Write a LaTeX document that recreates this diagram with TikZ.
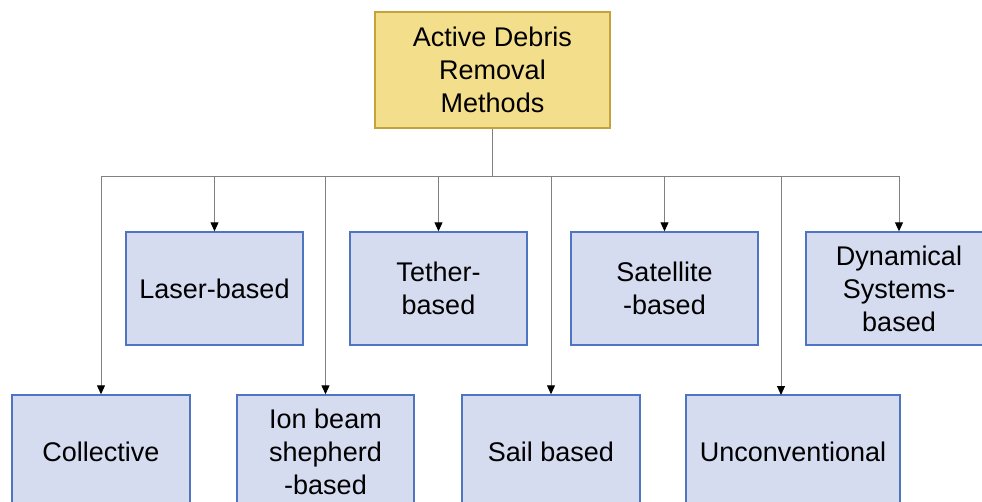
\documentclass[tikz,border=0pt]{standalone}
\usepackage{fontspec}
\setmainfont{Liberation Sans}
\usetikzlibrary{arrows.meta}
\definecolor{rootfill}{HTML}{F3DE8C}
\definecolor{rootdraw}{HTML}{C4A43A}
\definecolor{methfill}{HTML}{D6DCF0}
\definecolor{methdraw}{HTML}{4F74C2}
\definecolor{linkgray}{HTML}{808080}
\tikzstyle{root}=[draw=rootdraw,fill=rootfill,line width=1.4pt,minimum width=235pt,minimum height=116pt,inner sep=0pt,align=center,font=\fontsize{27}{33}\selectfont]
\tikzstyle{method}=[draw=methdraw,fill=methfill,line width=1.4pt,minimum width=177pt,minimum height=113pt,inner sep=0pt,align=center,font=\fontsize{27}{33}\selectfont]
\tikzstyle{link}=[draw=linkgray,line width=1pt]
\tikzstyle{drop}=[link,-{Triangle[length=9pt,width=8pt,color=black]}]

\begin{document}
\begin{tikzpicture}[x=1pt,y=-1pt]
                  \useasboundingbox (0,0) rectangle (982,502);

                  \node (adr) at (492.5,70) [root] {Active Debris\\Removal\\Methods};

                  \node (laser) at (214.5,288.5) [method] {Laser-based};
                  \node (tether) at (438.5,288.5) [method] {Tether-\\based};
                  \node (sat) at (664.5,288.5) [method,minimum width=187pt] {Satellite\\-based};
                  \node (dyn) at (899,288.5) [method,minimum width=186pt] {Dynamical\\Systems-\\based};

                  \node (coll) at (101,451.5) [method,minimum width=178pt] {Collective};
                  \node (ion) at (325.5,451.5) [method] {Ion beam\\shepherd\\-based};
                  \node (sail) at (551,451.5) [method,minimum width=178pt] {Sail based};
                  \node (unconv) at (793,451.5) [method,minimum width=214pt] {Unconventional};

                  \coordinate (bus) at (492.5,177);
                  \coordinate (unconvin) at (781,395);

                  \draw [link] (adr.south) -- (bus);
                  \draw [drop] (bus) -| (coll.north);
                  \draw [drop] (bus) -| (laser.north);
                  \draw [drop] (bus) -| (ion.north);
                  \draw [drop] (bus) -| (tether.north);
                  \draw [drop] (bus) -| (sail.north);
                  \draw [drop] (bus) -| (sat.north);
                  \draw [drop] (bus) -| (unconvin);
                  \draw [drop] (bus) -| (dyn.north);
              \end{tikzpicture}
\end{document}
